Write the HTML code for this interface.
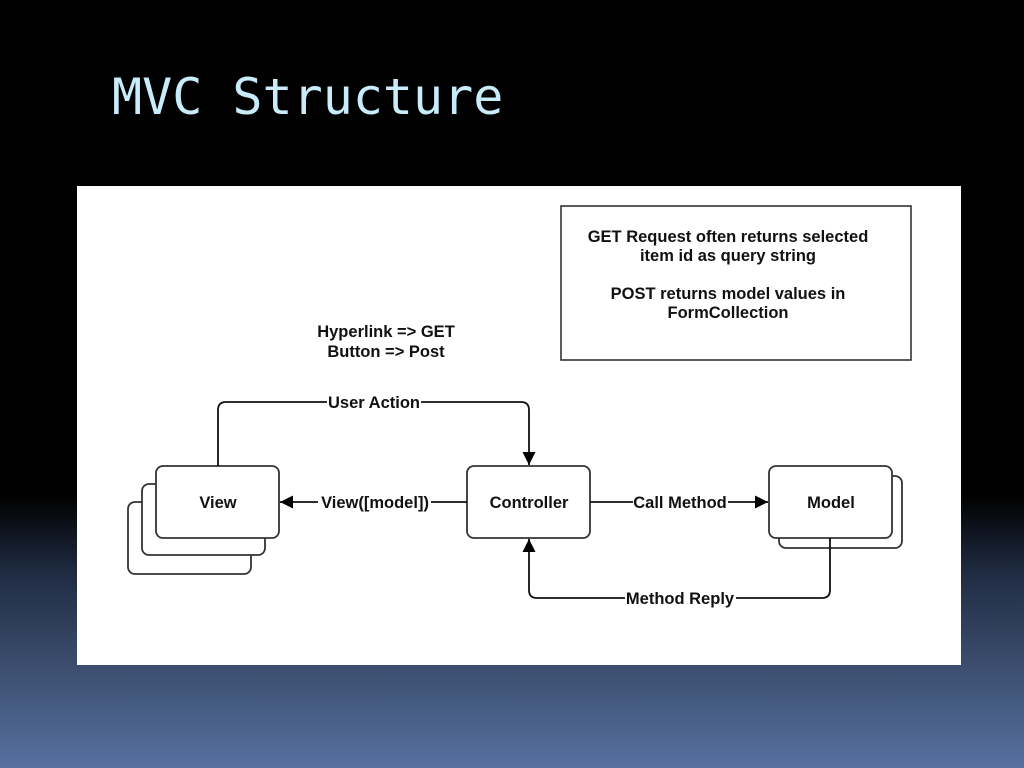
<!DOCTYPE html>
<html><head><meta charset="utf-8"><style>
html,body{margin:0;padding:0}
body{width:1024px;height:768px;overflow:hidden;position:relative;
background:linear-gradient(to bottom,#000 0px,#000 495px,#1e2a40 570px,#3a4c6c 660px,#56709f 768px);}
.title{position:absolute;left:112px;top:68px;font-family:"DejaVu Sans Mono","Liberation Mono",monospace;font-size:50px;color:#c9ecfb;}
.panel{position:absolute;left:77px;top:186px;width:884px;height:479px;background:#fff;}
svg{position:absolute;left:0;top:0}
text{font-family:"Liberation Sans",Arial,sans-serif;font-weight:bold;font-size:16.5px;fill:#111}
</style></head><body>
<div class="title">MVC Structure</div>
<div class="panel"></div>
<svg width="1024" height="768">
<defs><marker id="a" markerWidth="14" markerHeight="14" refX="13" refY="6.5" orient="auto" markerUnits="userSpaceOnUse"><path d="M0,0 L13,6.5 L0,13 z" fill="#000"/></marker></defs>
<g fill="#fff" stroke="#333" stroke-width="1.8">
<rect x="128" y="502" width="123" height="72" rx="7"/>
<rect x="142" y="484" width="123" height="71" rx="7"/>
<rect x="156" y="466" width="123" height="72" rx="7"/>
<rect x="467" y="466" width="123" height="72" rx="7"/>
<rect x="779" y="476" width="123" height="72" rx="7"/>
<rect x="769" y="466" width="123" height="72" rx="7"/>
</g>
<rect x="561" y="206" width="350" height="154" fill="none" stroke="#333" stroke-width="1.6"/>
<g fill="none" stroke="#111" stroke-width="1.8">
<path d="M218,466 V410 Q218,402 226,402 H521 Q529,402 529,410 V465" marker-end="url(#a)"/>
<path d="M467,502 H280" marker-end="url(#a)"/>
<path d="M590,502 H768" marker-end="url(#a)"/>
<path d="M830,538 V590 Q830,598 822,598 H537 Q529,598 529,590 V539" marker-end="url(#a)"/>
</g>
<g text-anchor="middle">
<rect x="327" y="393" width="94" height="18" fill="#fff"/><text x="374" y="408">User Action</text>
<rect x="318" y="493" width="113" height="18" fill="#fff"/><text x="375" y="508">View([model])</text>
<rect x="633" y="493" width="95" height="18" fill="#fff"/><text x="680" y="508">Call Method</text>
<rect x="625" y="589" width="111" height="18" fill="#fff"/><text x="680" y="604">Method Reply</text>
<text x="218" y="508">View</text>
<text x="529" y="508">Controller</text>
<text x="831" y="508">Model</text>
<text x="386" y="337">Hyperlink =&gt; GET</text>
<text x="386" y="357">Button =&gt; Post</text>
<text x="728" y="242">GET Request often returns selected</text>
<text x="728" y="261">item id as query string</text>
<text x="728" y="299">POST returns model values in</text>
<text x="728" y="318">FormCollection</text>
</g>
</svg>
</body></html>
